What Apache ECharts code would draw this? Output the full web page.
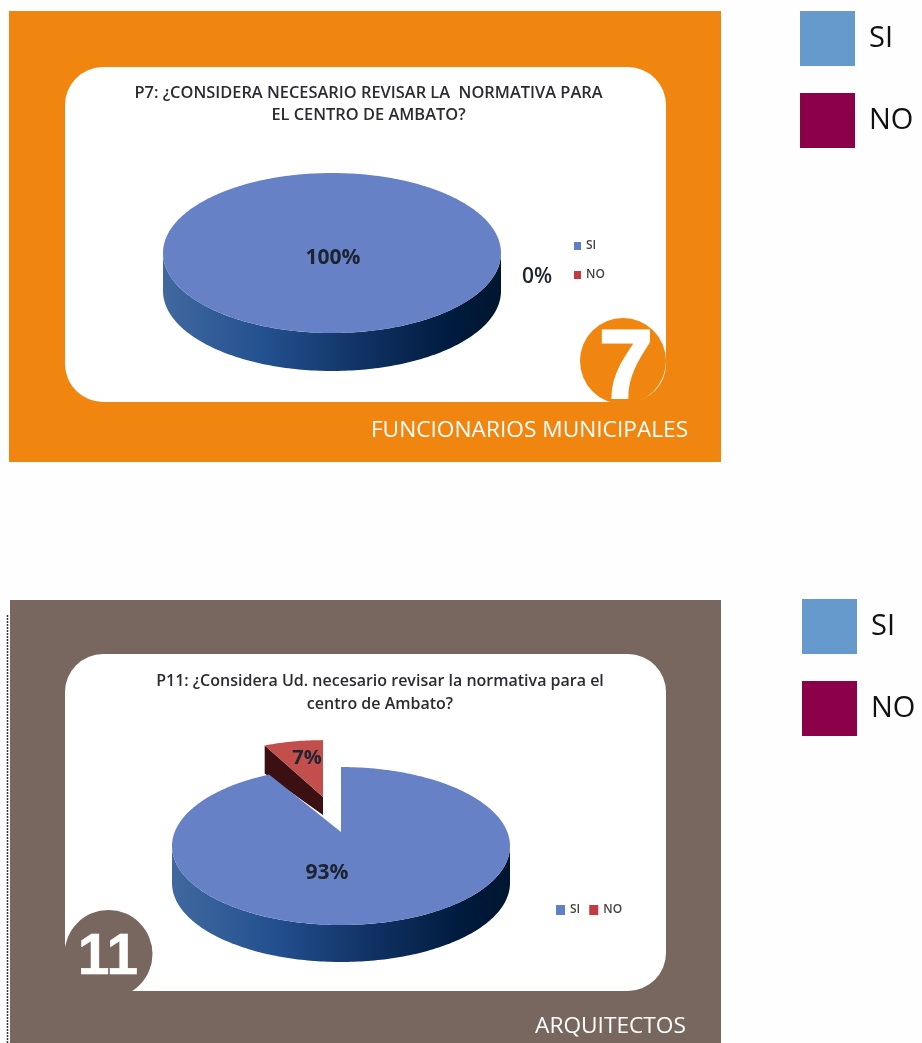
<!DOCTYPE html>
<html><head><meta charset="utf-8">
<style>html,body{margin:0;padding:0;background:#fff}#c{width:922px;height:1043px}</style>
<script src="https://cdn.jsdelivr.net/npm/echarts@6/dist/echarts.min.js"></script>
</head><body><div id="c"></div>
<script>
const categories = ['SI', 'NO'];
const valuesFuncionarios = [100, 0];
const valuesArquitectos = [93, 7];
const titleFuncionarios = 'P7: ¿CONSIDERA NECESARIO REVISAR LA  NORMATIVA PARA\nEL CENTRO DE AMBATO?';
const titleArquitectos = 'P11: ¿Considera Ud. necesario revisar la normativa para el\ncentro de Ambato?';

const BLUE_TOP = '#6681C5', RED_TOP = '#C24F4C', RED_SIDE = '#3A1012';
const sideGradient = () => new echarts.graphic.LinearGradient(0, 0, 1, 0, [
  {offset: 0, color: '#41699F'}, {offset: .3, color: '#23508F'},
  {offset: .62, color: '#0E2F5F'}, {offset: .85, color: '#001B3E'}, {offset: 1, color: '#00162F'}
]);

const pieTop = {cx: 332, cy: 253, rx: 169, ry: 80, depth: 38, apexDy: 0,
  labels: [{x: 333, y: 258, size: 21, weight: 'bold'}, {x: 537, y: 277, size: 21, weight: '600'}]};
const pieBottom = {cx: 341, cy: 846, rx: 169, ry: 79, depth: 37, apexDy: -14,
  explode: {dx: -18, dy: -49, sx: .81, sy: .72, d0: 28, d1: 18},
  labels: [{x: 327, y: 873, size: 21, weight: 'bold'}, {x: 307, y: 758, size: 20, weight: 'bold'}]};

function onEllipse(g, ang, sx, sy, dx, dy) {
  return [g.cx + (dx || 0) + Math.sin(ang) * g.rx * (sx || 1),
          g.cy + (dy || 0) - Math.cos(ang) * g.ry * (sy || 1)];
}
function arc(g, a0, a1, sx, sy, dx, dy) {
  const pts = [], n = Math.max(2, Math.ceil(Math.abs(a1 - a0) / 0.02));
  for (let i = 0; i <= n; i++) pts.push(onEllipse(g, a0 + (a1 - a0) * i / n, sx, sy, dx, dy));
  return pts;
}
function pct(v, vals) {
  return Math.round(v / vals.reduce((a, b) => a + b, 0) * 100) + '%';
}
function sliceSeries(name, idx, vals, g) {
  const total = vals.reduce((a, b) => a + b, 0);
  const before = vals.slice(0, idx).reduce((a, b) => a + b, 0);
  return {
    name, type: 'custom', coordinateSystem: 'none', silent: true,
    itemStyle: {color: idx === 0 ? BLUE_TOP : RED_TOP},
    data: [[vals[idx]]],
    renderItem(params, api) {
      const v = api.value(0), children = [];
      const frac = v / total, a0 = before / total * 2 * Math.PI, a1 = a0 + frac * 2 * Math.PI;
      const lab = g.labels[idx];
      if (frac > 0) {
        if (idx === 0) {
          const front = arc(g, Math.PI / 2, 3 * Math.PI / 2);
          const lower = front.map(p => [p[0], p[1] + g.depth]).reverse();
          children.push({type: 'polygon', shape: {points: front.concat(lower)}, style: {fill: sideGradient()}});
          let pts = arc(g, a0, a1);
          if (frac < 1) pts = [[g.cx, g.cy + g.apexDy]].concat(pts);
          children.push({type: 'polygon', shape: {points: pts}, style: {fill: BLUE_TOP}});
        } else {
          const e = g.explode;
          const apex = [g.cx + e.dx, g.cy + e.dy];
          const pts = arc(g, a0, a1, e.sx, e.sy, e.dx, e.dy);
          const outer = pts[0];
          children.push({type: 'polygon', shape: {points: [outer, apex, [apex[0], apex[1] + e.d1], [outer[0], outer[1] + e.d0]]}, style: {fill: RED_SIDE}});
          children.push({type: 'polygon', shape: {points: [apex].concat(pts)}, style: {fill: RED_TOP}});
        }
      }
      children.push({type: 'text', z2: 10, style: {text: pct(v, vals), x: lab.x, y: lab.y, align: 'center', verticalAlign: 'middle',
        font: lab.weight + ' ' + lab.size + 'px "Open Sans"', fill: '#1d2330'}});
      return {type: 'group', children};
    }
  };
}
const legendData = (si, no) => [{name: categories[0], itemStyle: {color: si}}, {name: categories[1], itemStyle: {color: no}}];
const smallLegend = (o) => Object.assign({selectedMode: false, icon: 'rect', data: legendData('#5E80C6', '#C23B3F'),
  textStyle: {fontFamily: 'Open Sans', fontSize: 12, fontWeight: 600, color: '#444'}}, o);
const bigLegend = (left, top) => ({left, top, orient: 'vertical', selectedMode: false, icon: 'rect', padding: 0,
  itemWidth: 55, itemHeight: 55, itemGap: 27, data: legendData('#6699CC', '#8B0048'),
  textStyle: {fontFamily: 'Open Sans', fontSize: 29, color: '#111', padding: [8, 0, 0, 9]}});

const rect = (x, y, w, h, fill, r) => ({type: 'rect', z: -10, shape: {x, y, width: w, height: h, r: r || 0}, style: {fill}, silent: true});
const circle = (cx, cy, r, fill) => ({type: 'circle', z: -5, shape: {cx, cy, r}, style: {fill}, silent: true});
const text = (t, x, y, size, weight, fam, sw) => ({type: 'text', z: 5, silent: true,
  style: {text: t, x, y, align: 'center', verticalAlign: 'middle', fill: '#fff', stroke: sw ? '#fff' : null, lineWidth: sw || 0, font: weight + ' ' + size + 'px "' + fam + '"'}});

const chart = echarts.init(document.getElementById('c'), null, {renderer: 'canvas'});
chart.setOption({
  animation: false,
  backgroundColor: '#fefefe',
  title: [
    {text: titleFuncionarios, left: 363.5, top: 77, textAlign: 'center',
      textStyle: {fontFamily: 'Open Sans', fontSize: 16.4, fontWeight: 600, color: '#2b2b33', lineHeight: 22}},
    {text: titleArquitectos, left: 375, top: 665, textAlign: 'center',
      textStyle: {fontFamily: 'Open Sans', fontSize: 16, fontWeight: 600, color: '#2b2b33', lineHeight: 23}}
  ],
  legend: [
    bigLegend(800, 11), bigLegend(802, 599),
    smallLegend({left: 574, top: 240, orient: 'vertical', itemWidth: 7, itemHeight: 8, itemGap: 17, padding: 0}),
    smallLegend({left: 556, top: 904, orient: 'horizontal', itemWidth: 9, itemHeight: 10, itemGap: 9, padding: 0})
  ],
  graphic: {elements: [
    rect(9, 11, 712, 451, '#F0860F'),
    rect(65, 67, 601, 335, '#FFFFFF', 38),
    circle(623, 361, 43, '#F0860F'),
    text('7', 626, 372, 96, 'bold', 'Liberation Sans', 3),
    text('FUNCIONARIOS MUNICIPALES', 529.5, 431, 22.7, 'normal', 'Open Sans'),
    rect(10, 600, 711, 443, '#78675F'),
    rect(65, 654, 601, 337, '#FFFFFF', 38),
    circle(108.5, 954, 44, '#78675F'),
    text('11', 108, 958, 57, 'bold', 'Liberation Sans', 0.5),
    text('ARQUITECTOS', 610.5, 1027, 22.7, 'normal', 'Open Sans'),
    {type: 'line', z: -5, silent: true, shape: {x1: 7.5, y1: 615, x2: 7.5, y2: 1043}, style: {stroke: '#333', lineWidth: 1.5, lineDash: [2, 1]}}
  ]},
  series: [
    sliceSeries(categories[1], 1, valuesFuncionarios, pieTop),
    sliceSeries(categories[0], 0, valuesFuncionarios, pieTop),
    sliceSeries(categories[1], 1, valuesArquitectos, pieBottom),
    sliceSeries(categories[0], 0, valuesArquitectos, pieBottom)
  ]
});
</script></body></html>
